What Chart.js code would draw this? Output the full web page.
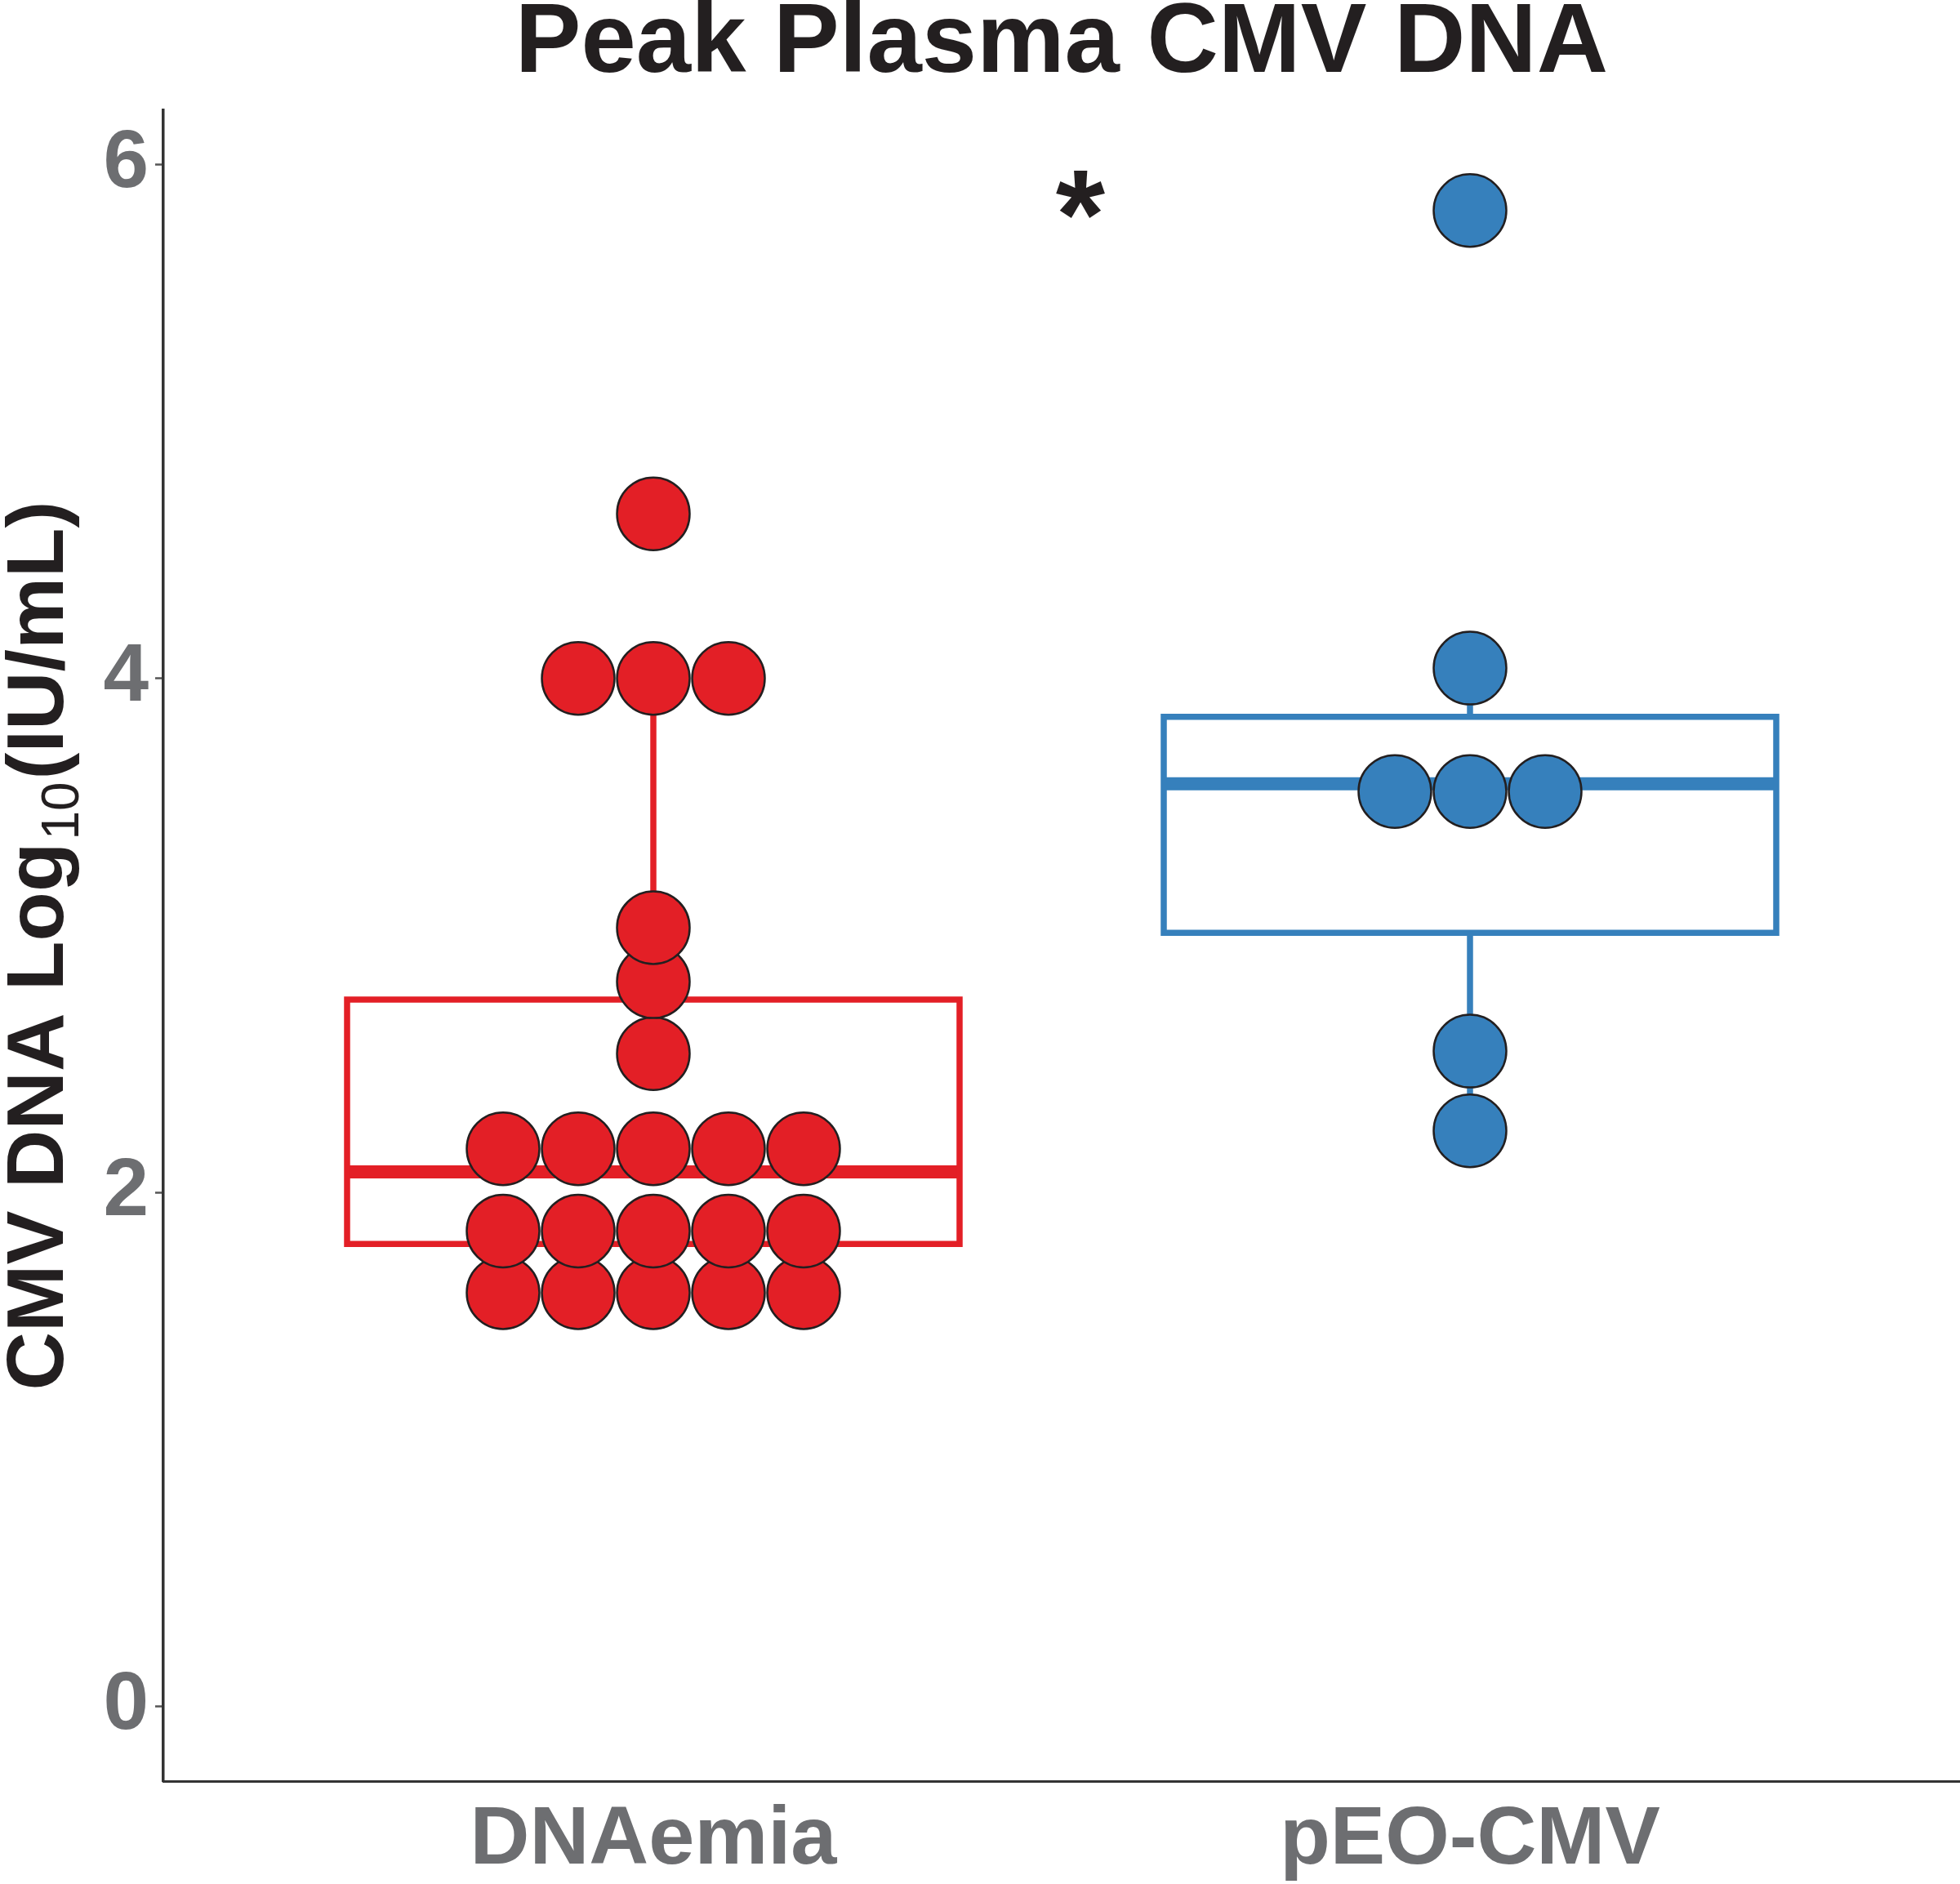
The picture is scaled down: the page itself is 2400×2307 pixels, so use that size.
<!DOCTYPE html>
<html>
<head>
<meta charset="utf-8">
<title>Peak Plasma CMV DNA</title>
<script src="https://cdn.jsdelivr.net/npm/chart.js@4.4.0/dist/chart.umd.min.js"></script>
<style>
  html, body { margin: 0; padding: 0; background: #fff; }
  canvas { display: block; }
</style>
</head>
<body>
<canvas id="dotChart" width="2400" height="2307"></canvas>
<script>
// values, log10 IU/mL
var groups = ["DNAemia", "pEO-CMV"];
var dnaemia = [4.64, 4.0, 4.0, 4.0, 3.03, 2.82, 2.54,
               2.17, 2.17, 2.17, 2.17, 2.17,
               1.85, 1.85, 1.85, 1.85, 1.85,
               1.61, 1.61, 1.61, 1.61, 1.61];
var peoCmv = [5.82, 4.04, 3.56, 3.56, 3.56, 2.55, 2.24];

// box summary per group
var boxQ1 = [1.80, 3.01];
var boxMedian = [2.08, 3.59];
var boxQ3 = [2.75, 3.85];
var whiskerLow = [1.61, 2.24];
var whiskerHigh = [4.0, 4.04];

var yTicks = [0, 2, 4, 6];

var RED = "#e31f26";
var BLUE = "#3680bc";
var GREY = "#6d6e71";
var INK = "#231f20";
var FONT = "'Liberation Sans', Arial, Helvetica, sans-serif";
var BOX_HALF = 0.375;
var DOT_STEP = 0.092;
var colors = [RED, BLUE];

// where the significance star sits (data units)
var star = { x: 1.523, y: 5.88 };

// stack equal values side by side, like a centred dotplot
function dotStack(values, center) {
    var pts = [];
    var sorted = values.slice().sort(function (a, b) { return a - b; });
    var i = 0;
    while (i < sorted.length) {
        var j = i;
        while (j < sorted.length && sorted[j] === sorted[i]) j++;
        var n = j - i;
        for (var k = 0; k < n; k++) {
            pts.push({ x: center + (k - (n - 1) / 2) * DOT_STEP, y: sorted[i] });
        }
        i = j;
    }
    return pts;
}

function lineSet(points, color, width) {
    return {
        type: "scatter",
        data: points,
        showLine: true,
        borderColor: color,
        borderWidth: width,
        borderJoinStyle: "miter",
        pointRadius: 0,
        fill: false,
        order: 2
    };
}

var datasets = [];
groups.forEach(function (g, i) {
    var c = i + 1, l = c - BOX_HALF, r = c + BOX_HALF;
    datasets.push(lineSet([
        { x: l, y: boxQ1[i] }, { x: r, y: boxQ1[i] }, { x: r, y: boxQ3[i] },
        { x: l, y: boxQ3[i] }, { x: l, y: boxQ1[i] }, { x: r, y: boxQ1[i] }
    ], colors[i], 7.5));
    datasets.push(lineSet([{ x: l, y: boxMedian[i] }, { x: r, y: boxMedian[i] }], colors[i], 16));
    datasets.push(lineSet([{ x: c, y: boxQ3[i] }, { x: c, y: whiskerHigh[i] }], colors[i], 7.5));
    datasets.push(lineSet([{ x: c, y: boxQ1[i] }, { x: c, y: whiskerLow[i] }], colors[i], 7.5));
});

[dnaemia, peoCmv].forEach(function (vals, i) {
    datasets.push({
        type: "scatter",
        label: groups[i],
        data: dotStack(vals, i + 1),
        backgroundColor: colors[i],
        borderColor: INK,
        borderWidth: 2.5,
        pointRadius: 44.5,
        pointHoverRadius: 44.5,
        order: 1
    });
});

var textPlugin = {
    id: "texts",
    afterDraw: function (chart) {
        var ctx = chart.ctx;
        var area = chart.chartArea;
        ctx.save();
        ctx.fillStyle = INK;

        // title
        ctx.font = "bold 121px " + FONT;
        ctx.textAlign = "center";
        ctx.textBaseline = "alphabetic";
        ctx.fillText("Peak Plasma CMV DNA", (area.left + area.right) / 2, 88);

        // y axis title with subscript
        var a = "CMV DNA Log", sub = "10", b = "(IU/mL)";
        var bigFont = "bold 99px " + FONT, subFont = "64px " + FONT;
        ctx.font = bigFont; var wa = ctx.measureText(a).width; var wb = ctx.measureText(b).width;
        ctx.font = subFont; var ws = ctx.measureText(sub).width + 6;
        var total = wa + ws + wb;
        ctx.save();
        ctx.translate(77, (area.top + area.bottom) / 2);
        ctx.rotate(-Math.PI / 2);
        ctx.textAlign = "left";
        var x0 = -total / 2;
        ctx.font = bigFont; ctx.fillText(a, x0, 0);
        ctx.font = subFont; ctx.fillText(sub, x0 + wa + 3, 19);
        ctx.font = bigFont; ctx.fillText(b, x0 + wa + ws, 0);
        ctx.restore();

        // significance star
        var px = chart.scales.x.getPixelForValue(star.x);
        var py = chart.scales.y.getPixelForValue(star.y);
        ctx.font = "bold 155px " + FONT;
        ctx.textAlign = "center";
        var m = ctx.measureText("*");
        var mid = (m.actualBoundingBoxAscent - m.actualBoundingBoxDescent) / 2;
        ctx.fillText("*", px, py + mid);
        ctx.restore();
    }
};

var chart = new Chart(document.getElementById("dotChart"), {
    type: "scatter",
    data: { datasets: datasets },
    plugins: [textPlugin],
    options: {
        responsive: false,
        animation: false,
        events: [],
        layout: { autoPadding: false, padding: { top: 135, right: 0, bottom: 0, left: 0 } },
        plugins: { legend: { display: false }, tooltip: { enabled: false } },
        scales: {
            x: {
                type: "linear",
                min: 0.4,
                max: 2.6,
                afterBuildTicks: function (s) { s.ticks = [1, 2].map(function (v) { return { value: v }; }); },
                afterFit: function (s) { s.height = 126; s.paddingLeft = 0; s.paddingRight = 0; },
                ticks: {
                    callback: function (v) { return groups[v - 1]; },
                    font: { family: FONT, size: 101, weight: "bold" },
                    color: GREY,
                    padding: 13
                },
                grid: { drawOnChartArea: false, drawTicks: false },
                border: { color: "#333", width: 3 }
            },
            y: {
                type: "linear",
                min: -0.29,
                max: 6.21,
                afterBuildTicks: function (s) { s.ticks = yTicks.map(function (v) { return { value: v }; }); },
                afterFit: function (s) { s.width = 200; s.paddingTop = 0; s.paddingBottom = 0; },
                ticks: {
                    font: { family: FONT, size: 100, weight: "bold" },
                    color: GREY,
                    padding: 8
                },
                grid: { drawOnChartArea: false, tickLength: 10, tickColor: "#555", tickWidth: 2.5 },
                border: { color: "#333", width: 3.5 }
            }
        }
    }
});
</script>
</body>
</html>
